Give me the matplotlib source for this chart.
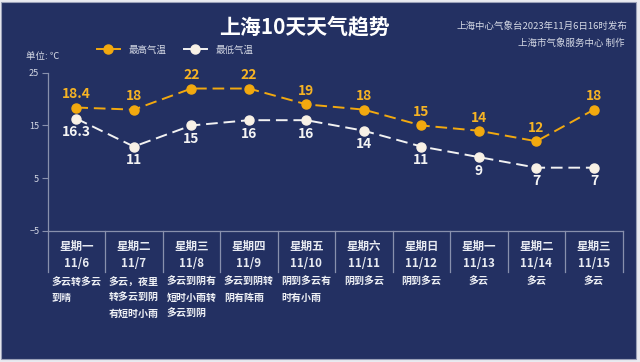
import matplotlib
matplotlib.use("Agg")
import matplotlib.pyplot as plt
from matplotlib.lines import Line2D
from matplotlib.patches import Rectangle

plt.rcParams['font.family'] = ['Noto Sans CJK SC', 'DejaVu Sans']

# ---- data ----
weekdays = ["星期一", "星期二", "星期三", "星期四", "星期五", "星期六", "星期日", "星期一", "星期二", "星期三"]
dates = ["11/6", "11/7", "11/8", "11/9", "11/10", "11/11", "11/12", "11/13", "11/14", "11/15"]
high_temps = [18.4, 18, 22, 22, 19, 18, 15, 14, 12, 18]
low_temps = [16.3, 11, 15, 16, 16, 14, 11, 9, 7, 7]
weather = ["多云转多云\n到晴", "多云，夜里\n转多云到阴\n有短时小雨", "多云到阴有\n短时小雨转\n多云到阴",
           "多云到阴转\n阴有阵雨", "阴到多云有\n时有小雨", "阴到多云", "阴到多云", "多云", "多云", "多云"]
y_ticks = [-5, 5, 15, 25]

title = "上海10天天气趋势"
source1 = "上海中心气象台2023年11月6日16时发布"
source2 = "上海市气象服务中心 制作"
unit = "单位: ℃"
legend_labels = ["最高气温", "最低气温"]

# ---- style ----
BG = '#233062'
ORANGE = '#f2a90f'
ORANGE_TXT = '#f6b324'
WHITE_PT = '#f8f1e6'
GRID = '#8890ad'
TXT = '#d4d8e4'

W, H = 640, 362
fig = plt.figure(figsize=(W / 100, H / 100), dpi=100, facecolor='#e9eaf0')
fig.patches.append(Rectangle((1 / W, 3 / H), 635 / W, 357 / H, transform=fig.transFigure,
                             facecolor=BG, edgecolor='#9aa0b8', linewidth=0.8, zorder=-10))

Y0, Y1 = 231.0, 72.7  # pixel rows (from top) of axes bottom/top
X0, X1 = 47.6, 622.7
ax = fig.add_axes([X0 / W, 1 - Y0 / H, (X1 - X0) / W, (Y0 - Y1) / H])
ax.set_facecolor('none')
n = len(dates)
xs = list(range(n))
ax.set_xlim(-0.5, n - 0.5)
ax.set_ylim(-5, 25)

for s in ['top', 'right']:
    ax.spines[s].set_visible(False)
for s in ['left', 'bottom']:
    ax.spines[s].set_color(GRID)
    ax.spines[s].set_linewidth(0.9)
ax.set_xticks([])
ax.set_yticks(y_ticks)
ax.tick_params(axis='y', colors=GRID, labelcolor=TXT, labelsize=6.5, length=4, width=0.8, pad=2)

ax.plot(xs, high_temps, color=ORANGE, lw=1.4, dashes=(6, 3), marker='o', ms=6.5,
        markerfacecolor=ORANGE, markeredgecolor=ORANGE, zorder=3, clip_on=False)
ax.plot(xs, low_temps, color='#f2f2f2', lw=1.4, dashes=(6, 3), marker='o', ms=6.5,
        markerfacecolor=WHITE_PT, markeredgecolor=WHITE_PT, zorder=3, clip_on=False)

for x, v in zip(xs, high_temps):
    ax.annotate(f"{v:g}", (x, v), xytext=(0, 9.5), textcoords='offset points', ha='center',
                va='center', color=ORANGE_TXT, fontsize=10, fontweight='bold')
for x, v in zip(xs, low_temps):
    ax.annotate(f"{v:g}", (x, v), xytext=(0, -9.8), textcoords='offset points', ha='center',
                va='center', color='#f4f4f4', fontsize=10, fontweight='bold')


def fy(ypix):
    return (Y0 - ypix) / (Y0 - Y1)


tr = ax.get_xaxis_transform()
for i in range(n + 1):
    ax.plot([i - 0.5, i - 0.5], [0, fy(271.7)], transform=tr, color=GRID, lw=0.9, clip_on=False)

for i in xs:
    ax.text(i, fy(246.7), weekdays[i], transform=tr, ha='center', va='center', color='#e8ebf2',
            fontsize=8.3, fontweight='bold')
    ax.text(i, fy(263.5), dates[i], transform=tr, ha='center', va='center', color='#e8ebf2',
            fontsize=8.3, fontweight='bold')
    ax.text(i, fy(276.5), weather[i], transform=tr, ha='center', va='top', ma='left', color='#eef0f5',
            fontsize=7.2, fontweight='bold', linespacing=1.75)

# titles and notes
fig.text(305 / W, 1 - 26.5 / H, title, ha='center', va='center', color='white', fontsize=15, fontweight='bold')
fig.text(627 / W, 1 - 26.5 / H, source1, ha='right', va='center', color=TXT, fontsize=6.8)
fig.text(625 / W, 1 - 42.7 / H, source2, ha='right', va='center', color=TXT, fontsize=6.8)
fig.text(26 / W, 1 - 56 / H, unit, ha='left', va='center', color=TXT, fontsize=6.8)

handles = [Line2D([], [], color=ORANGE, lw=1.4, marker='o', ms=6.5, markerfacecolor=ORANGE, markeredgecolor=ORANGE),
           Line2D([], [], color='#f2f2f2', lw=1.4, marker='o', ms=6.5, markerfacecolor=WHITE_PT, markeredgecolor=WHITE_PT)]
leg = fig.legend(handles, legend_labels, loc='center left', bbox_to_anchor=(97 / W, 1 - 50 / H),
                 bbox_transform=fig.transFigure, ncol=2, frameon=False, fontsize=6.8, labelcolor=TXT,
                 handlelength=2.4, handletextpad=0.9, columnspacing=1.9, borderpad=0, borderaxespad=0)

fig.savefig('out.png', dpi=100, facecolor=fig.get_facecolor())
